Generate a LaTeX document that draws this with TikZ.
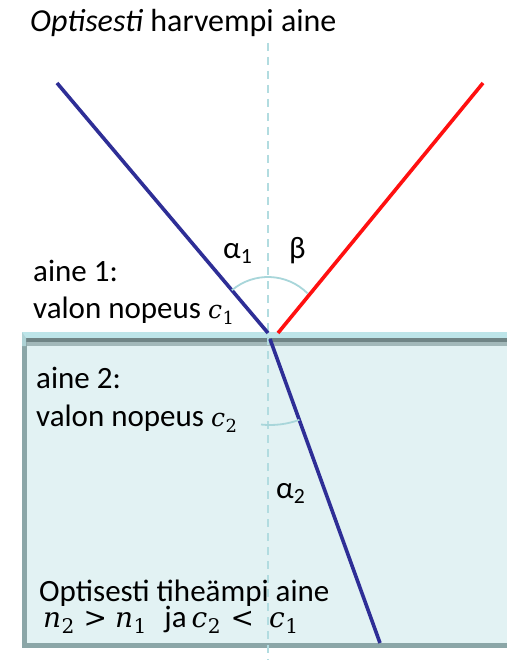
\documentclass[tikz,border=0pt]{standalone}
\usepackage{fontspec}
\setmainfont{Carlito}
\newfontfamily\mathfnt{DejaVu Serif}
\newcommand\mvar[3]{{\fontsize{#3}{#3}\mathfnt\itshape #1}\kern0.5pt\raisebox{-0.2em}{\fontsize{0.72\dimexpr#3pt\relax}{10}\mathfnt #2}}
\begin{document}
\begin{tikzpicture}[x=1pt,y=-1pt,
  txt/.style={anchor=base west,inner sep=0pt,font=\fontsize{31}{36}\selectfont},
  ray/.style={line width=3.6pt},
  normalline/.style={draw=normc,line width=1.8pt,dash pattern=on 8pt off 6pt},
  anglearc/.style={draw=arcc,line width=1.8pt}]
\definecolor{rayblue}{HTML}{2E2E96}
\definecolor{rayred}{HTML}{FF1010}
\definecolor{normc}{HTML}{B2DCE0}
\definecolor{arcc}{HTML}{A8D6DA}
\definecolor{boxfill}{HTML}{E2F2F3}
\definecolor{boxedge}{HTML}{8BA6A7}
\definecolor{bevdark}{HTML}{6F8485}
\definecolor{bevlight}{HTML}{BDE5E9}
\useasboundingbox (0,0) rectangle (507,660);
\fill[white] (0,0) rectangle (507,660);
% second medium box
\fill[boxfill] (22,340) rectangle (507,648);
\fill[boxedge] (22,340) rectangle (27,648);
\fill[boxedge] (22,643) rectangle (507,648);
% interface bevel strip
\fill[bevlight] (22,332) rectangle (507,338);
\fill[bevdark] (26,338) rectangle (507,342);
\fill[boxedge!80!white] (27,342) rectangle (507,346);
\fill[bevlight!70!boxedge] (22,332) -- (26,338) -- (26,346) -- (22,346) -- cycle;
% normal
\coordinate (ntop) at (268,43);
\coordinate (nbot) at (268,660);
\draw[normalline] (ntop) -- (nbot);
% rays
\coordinate (O) at (268,333);
\coordinate (Or) at (278,333);
\coordinate (Ot) at (270,339);
\coordinate (A) at (57,83);
\coordinate (B) at (483,83);
\coordinate (C) at (380,643);
\draw[rayblue,ray] (A) -- (O);
\draw[rayred,ray] (Or) -- (B);
\draw[rayblue,ray] (Ot) -- (C);
% angle arcs
\draw[anglearc] ([shift={(-130.2:56)}]O) arc[start angle=-130.2,end angle=-45,radius=56];
\draw[anglearc] ([shift={(96:86)}]Ot) arc[start angle=96,end angle=70,radius=86];
% labels
\node[txt,font=\fontsize{32}{38}\selectfont] (title) at (30,32) {\textit{Optisesti} harvempi aine};
\node[txt] (a1) at (223,258) {α\textsubscript{1}};
\node[txt] (beta) at (289,258) {β};
\node[txt] (m1a) at (33,281) {aine 1:};
\node[txt] (m1b) at (33,318) {valon nopeus \mvar{c}{1}{25}};
\node[txt] (m2a) at (36,388) {aine 2:};
\node[txt] (m2b) at (36,426) {valon nopeus \mvar{c}{2}{25}};
\node[txt] (a2) at (276,498) {α\textsubscript{2}};
\node[txt] (d1) at (39,601) {Optisesti tiheämpi aine};
\node[txt] (d2) at (43,627) {\mvar{n}{2}{28}\hspace{9pt}{\fontsize{28}{28}\mathfnt >}\hspace{8pt}\mvar{n}{1}{28}\hspace{18pt}ja\hspace{5pt}\mvar{c}{2}{28}\hspace{10pt}{\fontsize{28}{28}\mathfnt <}\hspace{15pt}\mvar{c}{1}{28}};
\end{tikzpicture}
\end{document}
